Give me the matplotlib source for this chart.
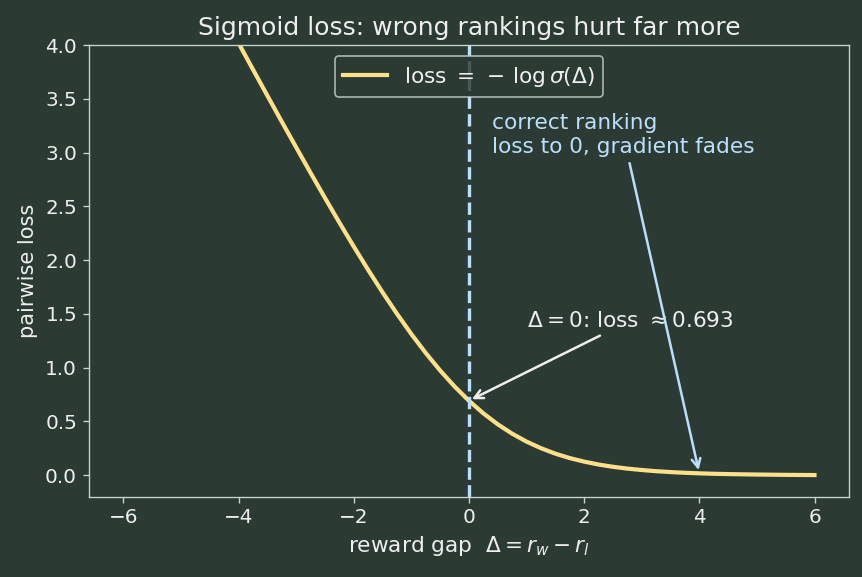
import matplotlib

matplotlib.use("Agg")

import matplotlib.pyplot as plt

# curve values (loss vs reward gap)
gap = [-6.0, -5.75, -5.5, -5.25, -5.0, -4.75, -4.5, -4.25, -4.0, -3.75, -3.5, -3.25,
       -3.0, -2.75, -2.5, -2.25, -2.0, -1.75, -1.5, -1.25, -1.0, -0.75, -0.5, -0.25,
       0.0, 0.25, 0.5, 0.75, 1.0, 1.25, 1.5, 1.75, 2.0, 2.25, 2.5, 2.75, 3.0, 3.25,
       3.5, 3.75, 4.0, 4.25, 4.5, 4.75, 5.0, 5.5, 6.0]
loss = [6.002, 5.753, 5.504, 5.255, 5.007, 4.759, 4.511, 4.264, 4.018, 3.773, 3.530, 3.288,
        3.049, 2.812, 2.579, 2.350, 2.127, 1.910, 1.701, 1.502, 1.313, 1.137, 0.974, 0.826,
        0.693, 0.576, 0.474, 0.387, 0.313, 0.252, 0.201, 0.160, 0.127, 0.100, 0.079, 0.062,
        0.049, 0.038, 0.030, 0.023, 0.018, 0.014, 0.011, 0.009, 0.007, 0.004, 0.002]

mid_point = (0.0, 0.693)
tail_point = (4.0, 0.018)

COLORS = {
    'bg': '#2b3b34',
    'text': '#eeeeee',
    'spine': '#c9d6cf',
    'curve': '#ffe08a',
    'blue': '#bbdefb',
}

fig, ax = plt.subplots(figsize=(862 / 120, 577 / 120), dpi=120, facecolor=COLORS['bg'])
ax.set_facecolor(COLORS['bg'])

ax.plot(gap, loss, color=COLORS['curve'], lw=2.5, label=r"loss $=\,-\,\log\sigma(\Delta)$")
ax.axvline(0, color=COLORS['blue'], ls='--', lw=2)

ax.annotate(r"$\Delta = 0$: loss $\approx 0.693$", xy=mid_point, xytext=(1.0, 1.38),
            color=COLORS['text'], fontsize=13,
            arrowprops=dict(arrowstyle='->', color=COLORS['text'], lw=1.5))
ax.annotate("correct ranking\nloss to 0, gradient fades", xy=tail_point, xytext=(0.4, 3.0),
            color=COLORS['blue'], fontsize=13,
            arrowprops=dict(arrowstyle='->', color=COLORS['blue'], lw=1.5))

ax.set_xlim(-6.6, 6.6)
ax.set_ylim(-0.2, 4.0)
ax.set_title("Sigmoid loss: wrong rankings hurt far more", color=COLORS['text'], fontsize=15)
ax.set_xlabel(r"reward gap  $\Delta = r_w - r_l$", color=COLORS['text'], fontsize=13)
ax.set_ylabel("pairwise loss", color=COLORS['text'], fontsize=12.5)
ax.tick_params(colors=COLORS['spine'], labelcolor=COLORS['text'], labelsize=12)
for s in ax.spines.values():
    s.set_color(COLORS['spine'])

leg = ax.legend(loc='upper center', fontsize=13, facecolor=COLORS['bg'], edgecolor=COLORS['spine'])
for t in leg.get_texts():
    t.set_color(COLORS['text'])

fig.subplots_adjust(left=0.103, right=0.985, top=0.922, bottom=0.139)
fig.savefig("out.png", facecolor=fig.get_facecolor())
